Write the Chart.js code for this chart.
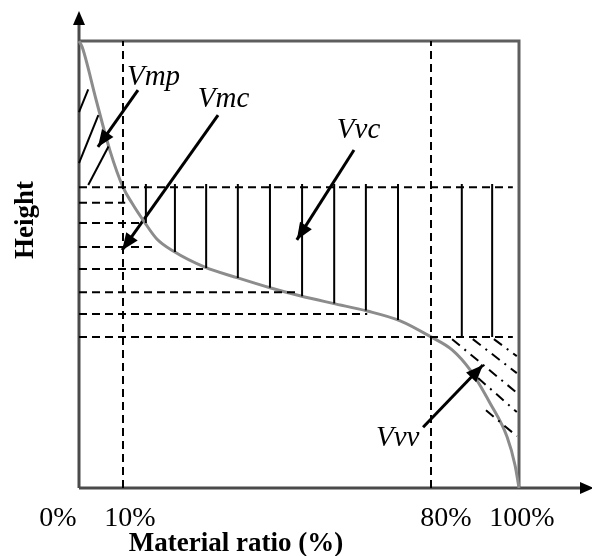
<!DOCTYPE html>
<html>
<head>
<meta charset="utf-8">
<script src="https://cdn.jsdelivr.net/npm/chart.js@4/dist/chart.umd.min.js"></script>
<style>
  html, body { margin: 0; padding: 0; background: #ffffff; }
  #wrap { width: 592px; height: 556px; position: relative; }
</style>
</head>
<body>
<div id="wrap"><canvas id="c" width="592" height="556"></canvas></div>
<script>
// Bearing area (Abbott-Firestone) curve: height against material ratio (%)
const ratio  = [0, 0.7, 3.9, 7.0, 10, 12.0, 15.0, 17.7, 21.4, 28.6, 36.1, 43.4, 50.2, 57.7, 65.5, 73.0, 80, 84.8, 88.9, 93.4, 97.3, 99.1, 100];
const height = [100, 98.7, 86.8, 75.6, 67.3, 63.8, 59.3, 55.7, 53.0, 49.4, 47.0, 44.8, 43.0, 41.3, 39.6, 37.4, 33.8, 30.9, 26.4, 19.0, 11.4, 5.1, 0];

// x axis ticks
const tickValues = [0, 10, 80, 100];
const tickLabels = ['0%', '10%', '80%', '100%'];

// material ratio cut-offs (dashed verticals)
const cutRatios = [10, 80];

// dashed height levels and the ratio where each one stops
const levelHeights = [67.3, 63.8, 59.3, 53.9, 49.0, 43.8, 38.9, 33.8];
const levelEnds    = [98.6, 10.5, 13.9, 17.7, 28.2, 50.2, 65.5, 98.6];

// solid vertical hatching of the core void volume
const hatchRatios  = [15.2, 21.8, 28.9, 36.1, 43.4, 50.7, 58.0, 65.2, 72.5, 87.0, 93.9];
const hatchTop     = 68;
const hatchBottoms = [59.3, 52.8, 49.2, 47.0, 44.8, 42.9, 41.3, 39.7, 37.6, 33.8, 33.8];

// peak material hatching: [ratio1, height1, ratio2, height2]
const peakHatch = [[2.1, 89.2, 0, 84.1], [4.4, 83.4, 0, 72.7], [6.7, 76.4, 2.1, 67.8]];

// valley void hatching (dash-dot): [ratio1, height1, ratio2, height2]
const valleyHatch = [[84.8, 33.3, 99.5, 21.3], [89.5, 33.3, 99.5, 25.7], [94.3, 33.3, 99.5, 29.5],
                     [90.7, 24.6, 99.5, 17.0], [92.5, 17.4, 99.5, 11.6]];

// parameter names, where they sit and where their arrows point
const paramNames = ['Vmp', 'Vmc', 'Vvc', 'Vvv'];
const paramLabelAt = [[10.9, 90.2], [27.0, 85.2], [58.6, 78.3], [67.5, 9.4]];
const arrowFrom = [[13.4, 89.0], [31.6, 83.4], [62.5, 75.6], [78.2, 13.6]];
const arrowTo   = [[4.3, 76.3], [9.8, 53.2], [49.5, 55.5], [91.8, 27.5]];

const SERIF = "'Liberation Serif', 'Times New Roman', serif";

function seg(x1, y1, x2, y2, style) {
  return Object.assign({
    data: [{ x: x1, y: y1 }, { x: x2, y: y2 }],
    showLine: true, pointRadius: 0, borderColor: '#000000', borderWidth: 2,
    fill: false, clip: false
  }, style);
}

const datasets = [];

// dashed cut-off verticals
cutRatios.forEach(r => datasets.push(seg(r, 0, r, 100, { borderDash: [8, 5], borderWidth: 2 })));

// dashed height levels
levelHeights.forEach((h, i) => datasets.push(seg(0, h, levelEnds[i], h, { borderDash: [8, 5], borderWidth: 2 })));

// solid vertical hatching
hatchRatios.forEach((r, i) => datasets.push(seg(r, hatchTop, r, hatchBottoms[i], { borderWidth: 2 })));

// peak hatching
peakHatch.forEach(p => datasets.push(seg(p[0], p[1], p[2], p[3], { borderWidth: 2 })));

// valley hatching
valleyHatch.forEach(p => datasets.push(seg(p[0], p[1], p[2], p[3], { borderWidth: 2, borderDash: [10, 6, 2, 6] })));

// the bearing curve
datasets.push({
  data: ratio.map((r, i) => ({ x: r, y: height[i] })),
  showLine: true, pointRadius: 0, borderColor: '#8c8c8c', borderWidth: 3,
  cubicInterpolationMode: 'monotone', fill: false, clip: false
});

// arrow shafts
arrowFrom.forEach((f, i) => datasets.push(seg(f[0], f[1], arrowTo[i][0], arrowTo[i][1], { borderWidth: 3 })));

const decorations = {
  id: 'decorations',
  beforeDatasetsDraw(chart) {
    const { ctx, chartArea: a } = chart;
    ctx.save();
    // top and right frame
    ctx.strokeStyle = '#5e5e5e';
    ctx.lineWidth = 3;
    ctx.beginPath();
    ctx.moveTo(a.left, a.top);
    ctx.lineTo(a.right, a.top);
    ctx.lineTo(a.right, a.bottom);
    ctx.stroke();
    // axes
    ctx.strokeStyle = '#4a4a4a';
    ctx.beginPath();
    ctx.moveTo(a.left, a.bottom);
    ctx.lineTo(a.left, 24);
    ctx.moveTo(a.left, a.bottom);
    ctx.lineTo(582, a.bottom);
    ctx.stroke();
    ctx.fillStyle = '#000000';
    ctx.beginPath();
    ctx.moveTo(a.left, 11);
    ctx.lineTo(a.left - 6, 25);
    ctx.lineTo(a.left + 6, 25);
    ctx.closePath();
    ctx.fill();
    ctx.beginPath();
    ctx.moveTo(594, a.bottom);
    ctx.lineTo(580, a.bottom - 6);
    ctx.lineTo(580, a.bottom + 6);
    ctx.closePath();
    ctx.fill();
    ctx.restore();
  },
  afterDatasetsDraw(chart) {
    const { ctx, chartArea: a, scales: { x, y } } = chart;
    ctx.save();
    // arrowheads
    ctx.fillStyle = '#000000';
    arrowTo.forEach((t, i) => {
      const x2 = x.getPixelForValue(t[0]), y2 = y.getPixelForValue(t[1]);
      const x1 = x.getPixelForValue(arrowFrom[i][0]), y1 = y.getPixelForValue(arrowFrom[i][1]);
      const ang = Math.atan2(y2 - y1, x2 - x1);
      const len = 17, half = 7;
      ctx.beginPath();
      ctx.moveTo(x2, y2);
      ctx.lineTo(x2 - len * Math.cos(ang) + half * Math.sin(ang), y2 - len * Math.sin(ang) - half * Math.cos(ang));
      ctx.lineTo(x2 - len * Math.cos(ang) - half * Math.sin(ang), y2 - len * Math.sin(ang) + half * Math.cos(ang));
      ctx.closePath();
      ctx.fill();
    });
    // parameter names
    ctx.fillStyle = '#000000';
    ctx.font = 'italic 29px ' + SERIF;
    ctx.textAlign = 'left';
    ctx.textBaseline = 'alphabetic';
    paramNames.forEach((n, i) => {
      ctx.fillText(n, x.getPixelForValue(paramLabelAt[i][0]), y.getPixelForValue(paramLabelAt[i][1]));
    });
    // tick labels
    const tickShift = [-21, 7, 15, 3];
    ctx.font = '28px ' + SERIF;
    ctx.textAlign = 'center';
    tickValues.forEach((v, i) => {
      ctx.fillText(tickLabels[i], x.getPixelForValue(v) + tickShift[i], a.bottom + 38);
    });
    // axis titles
    ctx.font = 'bold 27px ' + SERIF;
    ctx.fillText('Material ratio (%)', 236, a.bottom + 63);
    ctx.save();
    ctx.translate(33, 220);
    ctx.rotate(-Math.PI / 2);
    ctx.textAlign = 'center';
    ctx.fillText('Height', 0, 0);
    ctx.restore();
    ctx.restore();
  }
};

new Chart(document.getElementById('c'), {
  type: 'scatter',
  data: { datasets },
  options: {
    responsive: false,
    animation: false,
    events: [],
    layout: { padding: { left: 79, right: 73, top: 41, bottom: 68 } },
    plugins: { legend: { display: false }, tooltip: { enabled: false } },
    scales: {
      x: { type: 'linear', display: false, min: 0, max: 100 },
      y: { type: 'linear', display: false, min: 0, max: 100 }
    }
  },
  plugins: [decorations]
});
</script>
</body>
</html>
